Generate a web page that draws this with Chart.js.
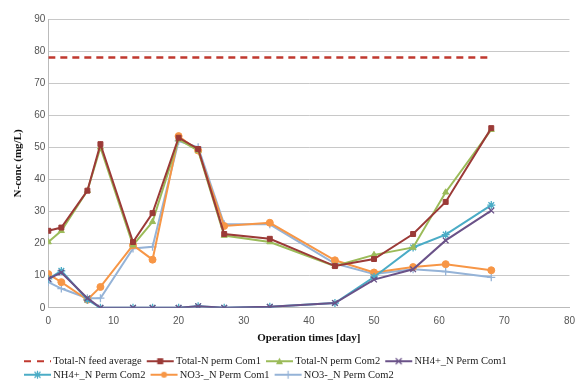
<!DOCTYPE html>
<html>
<head>
<meta charset="utf-8">
<script src="https://cdn.jsdelivr.net/npm/chart.js@4.4.0/dist/chart.umd.min.js"></script>
<style>
  html, body { margin: 0; padding: 0; background: #fff; }
  #wrap { width: 578px; height: 383px; }
</style>
</head>
<body>
<div id="wrap"><canvas id="chartN"></canvas></div>
<script>
// operation days
const days = [0, 2, 6, 8, 13, 16, 20, 23, 27, 34, 44, 50, 56, 61, 68];
const feedDays = [0, 68];
const feedAvg = [78, 78];
const totalCom1 = [24, 25, 36.5, 51, 20.5, 29.5, 53, 49.5, 23, 21.5, 13, 15.2, 23, 33, 56];
const totalCom2 = [20.5, 24, 36.5, 50, 19.5, 26.8, 52.5, 49, 22.5, 20.5, 13, 16.5, 18.8, 36, 55.5];
const nh4Com1 = [9, 11, 3, 0, 0, 0, 0, 0.5, 0, 0.3, 1.5, 8.8, 12, 21, 30.3];
const nh4Com2 = [9, 11.5, 2.5, 0, 0, 0, 0, 0.5, 0, 0.3, 1.5, 9.6, 18.8, 22.8, 32];
const no3Com1 = [10.5, 8, 2.5, 6.5, 19.5, 15, 53.5, 49, 25.5, 26.5, 14.8, 11, 12.7, 13.6, 11.7];
const no3Com2 = [8, 6, 3, 3, 18.5, 19, 52, 50, 26, 26, 13.8, 10.5, 12, 11.3, 9.5];

const pts = (xs, ys) => xs.map((x, i) => ({x: x, y: ys[i]}));

const series = [
  {label: 'Total-N feed average', xs: feedDays, ys: feedAvg, color: '#c0392f', marker: false, dash: [7, 5]},
  {label: 'Total-N perm Com1', xs: days, ys: totalCom1, color: '#9b3a37', marker: 'rect'},
  {label: 'Total-N perm Com2', xs: days, ys: totalCom2, color: '#9bbb59', marker: 'triangle'},
  {label: 'NH4+_N Perm Com1', xs: days, ys: nh4Com1, color: '#6a5288', marker: 'crossRot'},
  {label: 'NH4+_N Perm Com2', xs: days, ys: nh4Com2, color: '#4bacc6', marker: 'star'},
  {label: 'NO3-_N Perm Com1', xs: days, ys: no3Com1, color: '#f79646', marker: 'circle'},
  {label: 'NO3-_N Perm Com2', xs: days, ys: no3Com2, color: '#95b3d7', marker: 'cross'}
];
const thin = m => m === 'cross' || m === 'star' || m === 'crossRot';

// small legend icon: line with marker in the middle (canvas is wider than the box,
// so the line sits a bit right of the item start and close to the text)
function legendIcon(s) {
  const c = document.createElement('canvas');
  c.width = 34; c.height = 10;
  const g = c.getContext('2d');
  const x0 = 6, x1 = 33, mx = 19.5;
  g.strokeStyle = s.color; g.fillStyle = s.color; g.lineWidth = 2;
  if (s.dash) g.setLineDash([7, 6]);
  g.beginPath(); g.moveTo(x0, 5); g.lineTo(x1, 5); g.stroke();
  g.setLineDash([]);
  const m = s.marker;
  if (m === 'rect') g.fillRect(mx - 3, 2, 6, 6);
  else if (m === 'triangle') { g.beginPath(); g.moveTo(mx, 1.5); g.lineTo(mx + 3.5, 8); g.lineTo(mx - 3.5, 8); g.closePath(); g.fill(); }
  else if (m === 'circle') { g.beginPath(); g.arc(mx, 5, 3, 0, Math.PI * 2); g.fill(); }
  else if (m === 'crossRot' || m === 'star') {
    g.lineWidth = 1.2; g.beginPath();
    g.moveTo(mx - 3, 2); g.lineTo(mx + 3, 8); g.moveTo(mx + 3, 2); g.lineTo(mx - 3, 8);
    if (m === 'star') { g.moveTo(mx, 1); g.lineTo(mx, 9); }
    g.stroke();
  } else if (m === 'cross') { g.lineWidth = 1.2; g.beginPath(); g.moveTo(mx, 1); g.lineTo(mx, 9); g.stroke(); }
  return c;
}
const icons = series.map(legendIcon);

const datasets = series.map(s => ({
  label: s.label,
  data: pts(s.xs, s.ys),
  borderColor: s.color,
  backgroundColor: s.color,
  borderWidth: s.dash ? 2.5 : 2,
  borderDash: s.dash || [],
  pointStyle: s.marker || false,
  pointRadius: s.marker ? (thin(s.marker) ? 4 : 3.5) : 0,
  pointBorderWidth: thin(s.marker) ? 1.3 : 1,
  tension: 0,
  fill: false
}));

// nudge the legend block right, like the original
const legendShift = {
  id: 'legendShift',
  afterLayout(chart) { if (chart.legend) chart.legend.left += 11; }
};

new Chart(document.getElementById('chartN'), {
  type: 'line',
  data: {datasets: datasets},
  plugins: [legendShift],
  options: {
    responsive: true,
    maintainAspectRatio: false,
    animation: false,
    layout: {padding: {left: 8, right: 6, top: 19, bottom: -7}},
    plugins: {
      tooltip: {enabled: false},
      legend: {
        position: 'bottom',
        align: 'start',
        labels: {
          usePointStyle: true,
          pointStyleWidth: 26,
          padding: 3,
          color: '#222',
          font: {family: '"Liberation Serif", "Times New Roman", serif', size: 10.5},
          generateLabels: chart => Chart.defaults.plugins.legend.labels.generateLabels(chart)
            .map(l => Object.assign(l, {pointStyle: icons[l.datasetIndex], lineWidth: 0}))
        }
      }
    },
    scales: {
      x: {
        type: 'linear', min: 0, max: 80,
        ticks: {stepSize: 10, color: '#555', padding: 3, font: {family: '"Liberation Sans", Arial, sans-serif', size: 10}},
        grid: {display: false, drawTicks: true, tickLength: 4},
        border: {color: '#bbb'},
        title: {display: true, text: 'Operation times [day]', color: '#111', padding: {top: 2, bottom: 8},
          font: {family: '"Liberation Serif", "Times New Roman", serif', size: 11, weight: 'bold'}}
      },
      y: {
        min: 0, max: 90,
        ticks: {stepSize: 10, color: '#555', font: {family: '"Liberation Sans", Arial, sans-serif', size: 10}},
        grid: {color: '#c8c8c8', drawTicks: false},
        border: {color: '#bbb'},
        title: {display: true, text: 'N-conc (mg/L)', color: '#111', padding: {bottom: 6},
          font: {family: '"Liberation Serif", "Times New Roman", serif', size: 11, weight: 'bold'}}
      }
    }
  }
});
</script>
</body>
</html>
